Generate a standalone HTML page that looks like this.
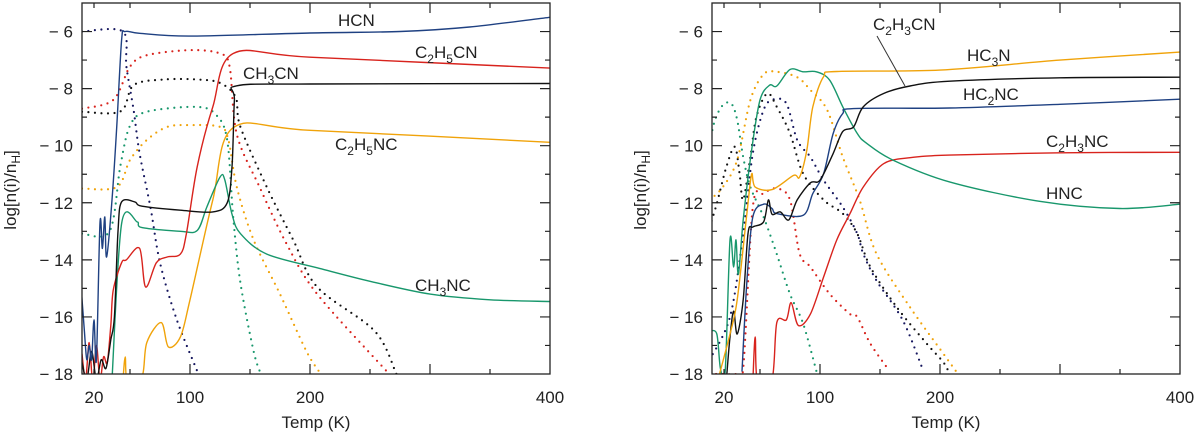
<!DOCTYPE html>
<html><head><meta charset="utf-8"><style>
html,body{margin:0;padding:0;background:#fff;}
svg text{font-family:"Liberation Sans",sans-serif;fill:#222;}
</style></head><body>
<svg id="chart" width="1200" height="436" xmlns="http://www.w3.org/2000/svg"></svg>
<script>
// ---------- data (Temperature K, log abundance) ----------
// Left panel
const lHcnT=[9.7,12,14,16,18,20,22,25,27,29,30.5,35,39,43,46,58,100,200,275,333,400];
const lHcnV=[-15.2,-16.5,-17.5,-17.0,-17.5,-16.1,-17.5,-12.7,-13.6,-12.5,-13.9,-11.9,-9.3,-6.3,-6.0,-6.06,-6.16,-6.05,-6.0,-5.84,-5.5];
const lHcnDotT=[10,44,47,53,58,67,75,89,106,108];
const lHcnDotV=[-6.0,-6.0,-7.23,-8.75,-10.27,-12.15,-14.1,-16.1,-17.9,-18.1];
const lC2h5cnT=[10,13,16,19,22,25,28,31,34,36,43,47,58,63,72,81,92,97,106,119,136,200,400];
const lC2h5cnV=[-17.3,-18.2,-16.9,-18.3,-17.0,-18.2,-17.4,-17.6,-16.3,-15.07,-14.1,-14.0,-13.6,-14.95,-14.1,-13.9,-13.8,-13.08,-10.74,-8.64,-6.77,-6.9,-7.28];
const lC2h5cnDotT=[10,36,50,64,100,125,133,139,158,180,206,266];
const lC2h5cnDotV=[-8.7,-8.4,-7.23,-6.83,-6.65,-6.77,-7.23,-9.6,-11.45,-13.4,-15.2,-18.0];
const lCh3cnT=[10,14,18,22,26,30,34,37,40,43,54,60,92,119,131,135,137,139,200,400];
const lCh3cnV=[-17.6,-18.2,-17.2,-18.2,-17.5,-17.8,-16.8,-16.0,-13.0,-11.97,-11.97,-12.12,-12.26,-12.32,-12.0,-10.74,-8.4,-7.9,-7.84,-7.82];
const lCh3cnDotT=[10,42,53,78,106,125,138,142,164,186,206,254,272];
const lCh3cnDotV=[-8.81,-8.8,-7.88,-7.68,-7.68,-7.8,-8.3,-9.34,-11.45,-13.3,-14.95,-16.5,-18.0];
const lCh3ncT=[35,43,56,60,92,106,114,125,129,135,142,164,208,250,300,350,400];
const lCh3ncV=[-18.2,-12.73,-12.67,-12.87,-13.0,-12.97,-12.15,-11.1,-11.2,-12.4,-13.08,-13.8,-14.3,-14.75,-15.2,-15.4,-15.46];
const lCh3ncDotT=[10,33,42,50,64,106,122,131,136,142,153,159];
const lCh3ncDotV=[-13.08,-13.0,-10.7,-9.3,-8.81,-8.64,-8.93,-9.8,-12.5,-14.8,-17.2,-18.0];
const lC2h5ncT=[44,46,48,60,64,76,82,92,100,119,136,200,400];
const lC2h5ncV=[-18.3,-17.4,-18.3,-18.1,-16.9,-16.2,-17.05,-16.7,-15.4,-11.9,-9.37,-9.46,-9.88];
const lC2h5ncDotT=[10,39,50,64,81,100,125,132,139,153,175,197,209];
const lC2h5ncDotV=[-11.5,-11.45,-10.5,-9.8,-9.34,-9.28,-9.34,-9.8,-11.45,-13.3,-15.2,-17.2,-18.0];
// Right panel
const rHc3nT=[15,25,31,39,43,46,60,78,83,89,94,103,114,200,300,400];
const rHc3nV=[-18.2,-16.6,-15.4,-12.4,-11.0,-11.45,-11.54,-11.04,-11.1,-10.16,-8.64,-7.58,-7.4,-7.35,-7.0,-6.72];
const rC2h3cnT=[22,25,28,31,36,40,44,53,57,60,67,74,81,92,100,111,119,128,136,153,175,208,300,400];
const rC2h3cnV=[-18.2,-16.7,-15.8,-16.6,-15.4,-13.08,-12.85,-12.67,-11.9,-12.4,-12.32,-12.6,-11.9,-11.3,-11.21,-10.27,-9.5,-9.34,-8.64,-8.17,-7.91,-7.74,-7.62,-7.6];
const rHc2ncT=[35,39,44,53,60,64,86,94,103,111,119,128,208,300,400];
const rHc2ncV=[-17.9,-14.8,-12.5,-12.05,-12.2,-12.38,-12.44,-11.68,-10.98,-9.57,-8.87,-8.7,-8.68,-8.55,-8.37];
const rC2h3ncT=[44,46,48,60,64,72,76,82,92,103,114,125,136,153,175,208,300,400];
const rC2h3ncV=[-18.3,-16.7,-18.3,-18.2,-16.2,-16.1,-15.5,-16.3,-15.9,-14.6,-13.3,-12.38,-11.45,-10.63,-10.42,-10.33,-10.25,-10.23];
const rHncT=[8,14,17,21,25,28,30,32,36,43,50,58,64,75,86,97,108,119,131,139,161,208,283,350,400];
const rHncV=[-16.5,-16.6,-17.8,-17.9,-13.3,-14.25,-13.3,-14.5,-12.6,-10.16,-8.4,-7.88,-7.91,-7.33,-7.41,-7.41,-7.7,-8.64,-9.57,-9.92,-10.51,-11.27,-11.95,-12.2,-12.05];
const rGreenDotT=[8,12.5,19,26,31,36,42,53,64,75,86,97];
const rGreenDotV=[-9.9,-9.1,-8.58,-8.52,-9.1,-10.4,-11.45,-12.5,-13.8,-15.2,-16.24,-17.9];
const rBlackDotT=[8,14,22,29,33,36,42,47,56,64,75,86,103,119,131,142,164,189,203,208];
const rBlackDotV=[-12.85,-12.03,-10.74,-10.04,-10.98,-11.9,-10.4,-8.99,-8.17,-8.64,-9.57,-10.98,-11.9,-12.38,-13.08,-14.25,-15.66,-16.94,-17.6,-18.0];
const rBlueDotT=[8,25,36,44,53,61,72,81,92,103,119,131,136,147,169,186];
const rBlueDotV=[-17.5,-16.0,-13.08,-10.27,-8.75,-8.38,-8.52,-9.8,-10.4,-11.21,-12.15,-13.08,-13.78,-14.72,-16.12,-17.88];
const rOrangeDotT=[8,19,31,42,53,64,81,92,106,119,133,147,175,203,215];
const rOrangeDotV=[-11.9,-11.45,-10.5,-8.4,-7.5,-7.41,-7.6,-8.05,-8.75,-10.4,-11.9,-13.78,-15.66,-17.3,-18.0];
const rRedDotT=[8,20,30,36,44,53,64,75,83,92,108,125,131,142,158];
const rRedDotV=[-18.0,-18.0,-18.0,-17.8,-12.15,-11.68,-11.5,-11.9,-13.78,-14.25,-15.19,-15.9,-16.0,-16.94,-17.9];
const xTickLabels=[20,100,200,400];
const yTickLabels=[-6,-8,-10,-12,-14,-16,-18];

// ---------- drawing ----------
const NS="http://www.w3.org/2000/svg";
const svg=document.getElementById('chart');
const TOP=3,BOT=374,T0=10,T1=400,V0=-5,V1=-18;
const C={blue:'#1f4182',navy:'#15165e',red:'#d8231d',black:'#111',green:'#18976c',orange:'#f0a30a'};
function mk(tag,attrs,parent){const e=document.createElementNS(NS,tag);for(const k in attrs)e.setAttribute(k,attrs[k]);(parent||svg).appendChild(e);return e;}
function panel(left,right,id){
  const g=mk('g',{});
  
  
  const xs=t=>left+(t-T0)*(right-left)/(T1-T0);
  const ys=v=>TOP+(V0-v)*(BOT-TOP)/(V0-V1);
  const cp=mk('clipPath',{id:'clip-'+id},g);
  mk('rect',{x:left,y:TOP,width:right-left,height:BOT-TOP},cp);
  const plot=mk('g',{'clip-path':'url(#clip-'+id+')'},g);
  return {g,xs,ys,plot,left,right};
}
function line(P,Ts,Vs,color,dotted,name){
  const pts=Ts.map((t,i)=>[P.xs(t),P.ys(Vs[i])]);
  let d='M'+pts[0][0].toFixed(1)+' '+pts[0][1].toFixed(1);
  const k=0.16;
  for(let i=0;i<pts.length-1;i++){
    const p0=pts[Math.max(0,i-1)],p1=pts[i],p2=pts[i+1],p3=pts[Math.min(pts.length-1,i+2)];
    const c1=[p1[0]+(p2[0]-p0[0])*k,p1[1]+(p2[1]-p0[1])*k];
    const c2=[p2[0]-(p3[0]-p1[0])*k,p2[1]-(p3[1]-p1[1])*k];
    d+=`C${c1[0].toFixed(1)} ${c1[1].toFixed(1)} ${c2[0].toFixed(1)} ${c2[1].toFixed(1)} ${p2[0].toFixed(1)} ${p2[1].toFixed(1)}`;
  }
  const p=mk('path',{d:d,fill:'none',stroke:color,'stroke-width':dotted?2.2:1.4,'stroke-linejoin':'round','stroke-linecap':'round'},P.plot);
  if(dotted)p.setAttribute('stroke-dasharray','0 6.5');
  
  
}
function axes(P){
  const g=P.g;
  const fr=mk('rect',{x:P.left,y:TOP,width:P.right-P.left,height:BOT-TOP,fill:'none',stroke:'#222','stroke-width':1.3},g);
  
  
  let d='';
  for(let t=50;t<400;t+=50){const x=P.xs(t);const L=(t%100===0)?10:5;d+=`M${x} ${BOT}v${-L}M${x} ${TOP}v${L}`;}
  {const x=P.xs(20);d+=`M${x} ${BOT}v-5M${x} ${TOP}v5`;}
  for(let v=-6;v>=-17;v--){const y=P.ys(v);const L=(v%2===0)?10:5;d+=`M${P.left} ${y}h${L}M${P.right} ${y}h${-L}`;}
  mk('path',{d:d,stroke:'#222','stroke-width':1.2,fill:'none'},g);
  xTickLabels.forEach(t=>{
    const tx=mk('text',{x:P.xs(t),y:403,'text-anchor':'middle','font-size':17},g);
    tx.textContent=t;
    
    
  });
  yTickLabels.forEach(v=>{
    const tx=mk('text',{x:P.left-9,y:P.ys(v)+6,'text-anchor':'end','font-size':17},g);
    tx.textContent='\u2212 '+Math.abs(v);
    
    
  });
  const xt=mk('text',{x:(P.left+P.right)/2,y:428,'text-anchor':'middle','font-size':17},g);
  xt.textContent='Temp (K)';
  
  
  const yt=mk('text',{x:0,y:0,'text-anchor':'middle','font-size':17,transform:`translate(${P.left-66},190) rotate(-90)`},g);
  yt.innerHTML='log[n(i)/n<tspan font-size="12" dy="4">H</tspan><tspan dy="-4">]</tspan>';
  
  
}
// parts: strings; digits become subscripts
function label(P,x,y,str,name){
  const t=mk('text',{x:x,y:y,'font-size':17},P.g);
  let html='',low=false;
  for(const ch of str){
    const isSub=/[0-9]/.test(ch);
    if(isSub&&!low){html+=`<tspan font-size="12" dy="5">${ch}</tspan>`;low=true;}
    else if(!isSub&&low){html+=`<tspan dy="-5">${ch}</tspan>`;low=false;}
    else html+=isSub?`<tspan font-size="12">${ch}</tspan>`:ch;
  }
  t.innerHTML=html;
  
  
}

const L=panel(82,550,'left-panel');
line(L,lHcnDotT,lHcnDotV,C.navy,true,'hcn-ice-dotted');
line(L,lC2h5cnDotT,lC2h5cnDotV,C.red,true,'c2h5cn-ice-dotted');
line(L,lCh3cnDotT,lCh3cnDotV,C.black,true,'ch3cn-ice-dotted');
line(L,lCh3ncDotT,lCh3ncDotV,C.green,true,'ch3nc-ice-dotted');
line(L,lC2h5ncDotT,lC2h5ncDotV,C.orange,true,'c2h5nc-ice-dotted');
line(L,lC2h5ncT,lC2h5ncV,C.orange,false,'c2h5nc-gas-line');
line(L,lCh3ncT,lCh3ncV,C.green,false,'ch3nc-gas-line');
line(L,lC2h5cnT,lC2h5cnV,C.red,false,'c2h5cn-gas-line');
line(L,lCh3cnT,lCh3cnV,C.black,false,'ch3cn-gas-line');
line(L,lHcnT,lHcnV,C.blue,false,'hcn-gas-line');
axes(L);
label(L,338,26,'HCN','hcn-label');
label(L,415,58,'C2H5CN','c2h5cn-label');
label(L,243,79,'CH3CN','ch3cn-label');
label(L,335,150,'C2H5NC','c2h5nc-label');
label(L,415,291,'CH3NC','ch3nc-label');

const R=panel(712,1180,'right-panel');
line(R,rGreenDotT,rGreenDotV,C.green,true,'hnc-ice-dotted');
line(R,rRedDotT,rRedDotV,C.red,true,'c2h3nc-ice-dotted');
line(R,rBlueDotT,rBlueDotV,C.navy,true,'hc2nc-ice-dotted');
line(R,rBlackDotT,rBlackDotV,C.black,true,'c2h3cn-ice-dotted');
line(R,rOrangeDotT,rOrangeDotV,C.orange,true,'hc3n-ice-dotted');
line(R,rC2h3ncT,rC2h3ncV,C.red,false,'c2h3nc-gas-line');
line(R,rHncT,rHncV,C.green,false,'hnc-gas-line');
line(R,rHc2ncT,rHc2ncV,C.blue,false,'hc2nc-gas-line');
line(R,rC2h3cnT,rC2h3cnV,C.black,false,'c2h3cn-gas-line');
line(R,rHc3nT,rHc3nV,C.orange,false,'hc3n-gas-line');
axes(R);
const ptr=mk('line',{x1:877,y1:36,x2:905,y2:86,stroke:'#333','stroke-width':1},R.g);


label(R,873,30,'C2H3CN','c2h3cn-label');
label(R,967,61,'HC3N','hc3n-label');
label(R,963,100,'HC2NC','hc2nc-label');
label(R,1046,147,'C2H3NC','c2h3nc-label');
label(R,1046,199,'HNC','hnc-label');
</script>
</body></html>
